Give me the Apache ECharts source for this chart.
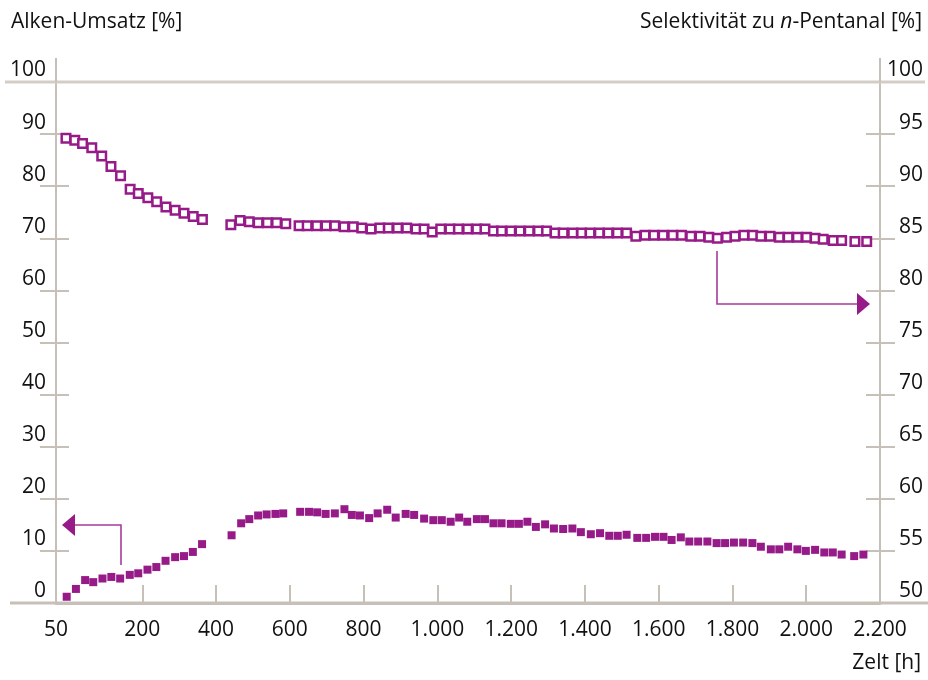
<!DOCTYPE html>
<html>
<head>
<meta charset="utf-8">
<script src="https://cdn.jsdelivr.net/npm/echarts@6/dist/echarts.min.js"></script>
<style>
html,body{margin:0;padding:0;background:#fff;}
#chart{width:928px;height:680px;}
</style>
</head>
<body>
<div id="chart"></div>
<script>
// X axis ticks (first tick sits at the axis start and is labelled "50")
const xTickValues = [-34, 200, 400, 600, 800, 1000, 1200, 1400, 1600, 1800, 2000, 2200];
const xTickLabels = ['50', '200', '400', '600', '800', '1.000', '1.200', '1.400', '1.600', '1.800', '2.000', '2.200'];

// Alken-Umsatz [%] (filled squares, left axis)
const umsatzHours = [-5, 20, 45, 67, 92, 116, 140, 166, 189, 214, 238, 263, 289, 313, 337, 362,
  442, 468, 490, 514, 537, 561, 582, 628, 652, 674, 697, 722, 748, 768, 790, 815, 838, 864, 887,
  914, 937, 964, 989, 1012, 1036, 1059, 1081, 1107, 1129, 1152, 1174, 1199, 1221, 1244, 1267,
  1292, 1316, 1341, 1366, 1389, 1416, 1441, 1466, 1489, 1513, 1542, 1566, 1590, 1613, 1635, 1660,
  1683, 1707, 1732, 1757, 1780, 1804, 1829, 1854, 1877, 1904, 1927, 1951, 1976, 1999, 2024, 2049,
  2072, 2096, 2130, 2155];
const umsatzValues = [1.2, 2.7, 4.4, 4.0, 4.7, 5.0, 4.7, 5.4, 5.7, 6.4, 6.9, 8.1, 8.8, 9.0, 9.8, 11.3,
  13.0, 15.3, 16.1, 16.8, 17.0, 17.1, 17.2, 17.5, 17.5, 17.4, 17.1, 17.2, 18.0, 16.9, 16.8, 16.3, 17.2, 17.9, 16.4,
  17.1, 16.9, 16.2, 15.9, 15.9, 15.6, 16.4, 15.6, 16.1, 16.1, 15.3, 15.3, 15.2, 15.2, 15.6, 14.6,
  15.1, 14.3, 14.2, 14.3, 13.6, 13.2, 13.4, 12.9, 12.9, 13.1, 12.5, 12.5, 12.7, 12.7, 12.1, 12.6,
  11.8, 11.8, 11.8, 11.5, 11.5, 11.6, 11.6, 11.5, 10.8, 10.3, 10.3, 10.8, 10.3, 10.0, 10.2, 9.7,
  9.7, 9.3, 9.0, 9.3];

// Selektivität zu n-Pentanal [%] (open squares, right axis)
const selHours = [-7, 17, 38, 63, 90, 115, 141, 167, 189, 215, 239, 264, 289, 313, 338, 363,
  440, 465, 490, 514, 539, 564, 589, 625, 647, 673, 698, 722, 747, 772, 795, 820, 844, 867, 892,
  917, 942, 964, 986, 1009, 1034, 1057, 1082, 1107, 1129, 1152, 1174, 1199, 1224, 1249, 1274,
  1296, 1319, 1341, 1367, 1391, 1414, 1439, 1463, 1488, 1513, 1538, 1563, 1587, 1612, 1638, 1662,
  1687, 1712, 1736, 1759, 1784, 1807, 1831, 1855, 1877, 1902, 1927, 1951, 1976, 2001, 2024, 2046,
  2073, 2096, 2132, 2164];
const selValues = [94.6, 94.4, 94.1, 93.7, 92.9, 91.9, 91.0, 89.7, 89.3, 88.9, 88.5, 88.0, 87.7, 87.4, 87.1, 86.8,
  86.3, 86.7, 86.6, 86.5, 86.5, 86.5, 86.4, 86.2, 86.2, 86.2, 86.2, 86.2, 86.1, 86.1, 86.0, 85.9, 86.0, 86.0, 86.0,
  86.0, 85.9, 85.9, 85.6, 85.9, 85.9, 85.9, 85.9, 85.9, 85.9, 85.7, 85.7, 85.7, 85.7, 85.7, 85.7,
  85.7, 85.5, 85.5, 85.5, 85.5, 85.5, 85.5, 85.5, 85.5, 85.5, 85.2, 85.3, 85.3, 85.3, 85.3, 85.3,
  85.2, 85.2, 85.1, 85.0, 85.1, 85.2, 85.3, 85.3, 85.2, 85.2, 85.1, 85.1, 85.1, 85.1, 85.0, 84.9,
  84.8, 84.8, 84.7, 84.7];

const leftTicks = [0, 10, 20, 30, 40, 50, 60, 70, 80, 90, 100];
const rightTicks = [50, 55, 60, 65, 70, 75, 80, 85, 90, 95, 100];

const PURPLE = '#961b88';
const ARROW = '#a83a9e';
const AXIS = '#c7c0b8';
const TEXT = '#111111';
const FONT = '"Open Sans", sans-serif';
const FS = 21;

const G = {left: 56, right: 48, top: 82, bottom: 77};

const chart = echarts.init(document.getElementById('chart'), null, {renderer: 'canvas'});

function yAxisBase(pos, min, max, interval) {
  return {
    type: 'value', position: pos, offset: 0, min: min, max: max, interval: interval,
    splitLine: {show: false}
  };
}

const option = {
  animation: false,
  backgroundColor: '#fff',
  grid: {left: G.left, right: G.right, top: G.top, bottom: G.bottom, containLabel: false},
  xAxis: {
    type: 'value', min: xTickValues[0], max: xTickValues[xTickValues.length - 1],
    axisLine: {show: true, onZero: false, lineStyle: {color: AXIS, width: 3}},
    axisTick: {show: true, inside: true, length: 18, lineStyle: {color: AXIS, width: 2},
      customValues: xTickValues.slice(1)},
    axisLabel: {
      show: true, customValues: xTickValues, margin: 17,
      color: TEXT, fontFamily: FONT, fontSize: FS,
      formatter: function (v) { const i = xTickValues.indexOf(v); return i >= 0 ? xTickLabels[i] : ''; }
    },
    splitLine: {show: false}
  },
  yAxis: [
    Object.assign(yAxisBase('left', 0, 100, 10), {
      axisLine: {show: true, onZero: false, lineStyle: {color: AXIS, width: 2}},
      axisTick: {show: true, length: 16, lineStyle: {color: AXIS, width: 2}},
      axisLabel: {show: true, margin: 10, color: TEXT, fontFamily: FONT, fontSize: FS,
        verticalAlign: 'bottom', padding: [0, 0, 1, 0],
        formatter: function (v) { return leftTicks.indexOf(v) >= 0 ? String(v) : ''; }}
    }),
    Object.assign(yAxisBase('right', 50, 100, 5), {
      axisLine: {show: true, onZero: false, lineStyle: {color: AXIS, width: 2}},
      axisTick: {show: true, length: 15, lineStyle: {color: AXIS, width: 2}},
      axisLabel: {show: true, margin: 43, align: 'right', color: TEXT, fontFamily: FONT, fontSize: FS,
        verticalAlign: 'bottom', padding: [0, 0, 1, 0],
        formatter: function (v) { return rightTicks.indexOf(v) >= 0 ? String(v) : ''; }}
    }),
    Object.assign(yAxisBase('left', 0, 100, 10), {
      axisLine: {show: false, onZero: false},
      axisTick: {show: true, inside: true, length: 13, lineStyle: {color: AXIS, width: 2}},
      axisLabel: {show: false}
    }),
    Object.assign(yAxisBase('right', 50, 100, 5), {
      axisLine: {show: false, onZero: false},
      axisTick: {show: true, inside: true, length: 14, lineStyle: {color: AXIS, width: 2}},
      axisLabel: {show: false}
    })
  ],
  series: [
    {
      name: 'Alken-Umsatz', type: 'scatter', yAxisIndex: 0,
      symbol: 'rect', symbolSize: 8,
      itemStyle: {color: PURPLE, opacity: 1},
      data: umsatzHours.map(function (h, i) { return [h, umsatzValues[i]]; }),
      z: 5
    },
    {
      name: 'Selektivität zu n-Pentanal', type: 'scatter', yAxisIndex: 1,
      symbol: 'rect', symbolSize: 8.5,
      itemStyle: {color: '#ffffff', borderColor: PURPLE, borderWidth: 2.5, opacity: 1},
      data: selHours.map(function (h, i) { return [h, selValues[i]]; }),
      z: 5
    }
  ],
  graphic: [
    // full-width frame lines and axis extensions
    {type: 'line', shape: {x1: 5, y1: 82, x2: 925, y2: 82}, style: {stroke: '#d3cdc7', lineWidth: 3}, z: 1},
    {type: 'line', shape: {x1: 10, y1: 603, x2: 928, y2: 603}, style: {stroke: AXIS, lineWidth: 3}, z: 1},
    {type: 'line', shape: {x1: 56, y1: 58, x2: 56, y2: 82}, style: {stroke: AXIS, lineWidth: 2}, z: 1},
    {type: 'line', shape: {x1: 880, y1: 58, x2: 880, y2: 82}, style: {stroke: AXIS, lineWidth: 2}, z: 1},
    // titles
    {type: 'text', left: 11, top: 12, style: {text: 'Alken-Umsatz [%]', fill: TEXT, font: FS + 'px ' + FONT}},
    {type: 'text', right: 6, top: 12, style: {
      text: '{a|Selektivität zu }{i|n}{a|-Pentanal [%]}', fill: TEXT,
      rich: {a: {fontFamily: FONT, fontSize: FS, fill: TEXT}, i: {fontFamily: FONT, fontSize: FS, fontStyle: 'italic', fill: TEXT}}
    }},
    {type: 'text', right: 7, top: 653, style: {text: 'Zelt [h]', fill: TEXT, font: FS + 'px ' + FONT}},
    // left arrow annotation
    {type: 'polyline', shape: {points: [[121, 565], [121, 525], [73, 525]]}, style: {stroke: ARROW, lineWidth: 1.6, fill: null}, z: 3},
    {type: 'polygon', shape: {points: [[62, 525], [75, 514], [75, 536]]}, style: {fill: PURPLE}, z: 3},
    // right arrow annotation
    {type: 'polyline', shape: {points: [[717, 251], [717, 304], [858, 304]]}, style: {stroke: ARROW, lineWidth: 1.6, fill: null}, z: 3},
    {type: 'polygon', shape: {points: [[870, 304], [857, 293], [857, 315]]}, style: {fill: PURPLE}, z: 3}
  ]
};
chart.setOption(option);
</script>
</body>
</html>
